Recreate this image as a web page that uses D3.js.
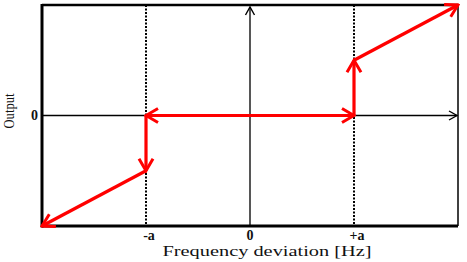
<!DOCTYPE html>
<html>
<head>
<meta charset="utf-8">
<script src="https://cdn.jsdelivr.net/npm/d3@7"></script>
<style>
  body { margin: 0; background: #fff; }
  text { font-family: "Liberation Serif", "DejaVu Serif", serif; fill: #111; }
</style>
</head>
<body>
<svg id="main-svg" width="467" height="262"></svg>
<script>
// data
const xTicks = [-1, 0, 1];
const xTickLabels = ["-a", "0", "+a"];
const yTicks = [0];
const yTickLabels = ["0"];
const thresholds = [-1, 1];
// red response path, one entry per arrow
const segments = [
  {from: [-1, 0], to: [1, 0], both: true},
  {from: [-1, 0], to: [-1, -0.5]},
  {from: [-1, -0.5], to: [-2, -1]},
  {from: [1, 0], to: [1, 0.5]},
  {from: [1, 0.5], to: [2, 1]}
];

const margin = {top: 5, right: 9, bottom: 36, left: 42};
const width = 467, height = 262;

const x = d3.scaleLinear().domain([-2, 2]).range([margin.left, width - margin.right]);
const y = d3.scaleLinear().domain([-1, 1]).range([height - margin.bottom, margin.top]);

const svg = d3.select('#main-svg');
const defs = svg.append("defs");

let marker = (id, color, w, len, half) => {
  defs.append("marker")
    .attr("id", id)
    .attr("viewBox", "-16 -10 18 20")
    .attr("refX", 0).attr("refY", 0)
    .attr("markerUnits", "userSpaceOnUse")
    .attr("markerWidth", 18).attr("markerHeight", 20)
    .attr("orient", "auto-start-reverse")
    .append("path")
    .attr("d", `M${-len},${-half}L0,0L${-len},${half}`)
    .attr("fill", "none")
    .attr("stroke", color)
    .attr("stroke-width", w)
    .attr("stroke-linejoin", "miter");
}
marker("red-arrow", "#f00", 3, 12, 7);
marker("black-arrow", "#000", 1.4, 8, 4.5);

// dotted threshold lines
svg.append("g")
  .selectAll("line")
  .data(thresholds)
  .join("line")
  .attr("x1", d => x(d)).attr("x2", d => x(d))
  .attr("y1", y(1)).attr("y2", y(-1))
  .attr("stroke", "#000")
  .attr("stroke-width", 2)
  .attr("stroke-dasharray", "2,1.5");

// zero axes with arrows
svg.append("line")
  .attr("x1", x(0)).attr("x2", x(0))
  .attr("y1", y(-1)).attr("y2", y(1) + 2)
  .attr("stroke", "#444").attr("stroke-width", 1.8)
  .attr("marker-end", "url(#black-arrow)");
svg.append("line")
  .attr("x1", x(-2)).attr("x2", x(2) - 1)
  .attr("y1", y(0)).attr("y2", y(0))
  .attr("stroke", "#000").attr("stroke-width", 1.6)
  .attr("marker-end", "url(#black-arrow)");

// frame
const frame = svg.append("g").attr("stroke", "#000").attr("fill", "none");
frame.append("line").attr("x1", x(-2)).attr("x2", x(2)).attr("y1", y(1)).attr("y2", y(1)).attr("stroke-width", 2.5);
frame.append("line").attr("x1", x(-2)).attr("x2", x(2)).attr("y1", y(-1)).attr("y2", y(-1)).attr("stroke-width", 3);
frame.append("line").attr("x1", x(-2)).attr("x2", x(-2)).attr("y1", y(1) - 1).attr("y2", y(-1) + 1.5).attr("stroke-width", 3);
frame.append("line").attr("x1", x(2)).attr("x2", x(2)).attr("y1", y(1)).attr("y2", y(-1)).attr("stroke-width", 1.5);

// red arrows
svg.append("g")
  .selectAll("line")
  .data(segments)
  .join("line")
  .attr("x1", d => x(d.from[0])).attr("y1", d => y(d.from[1]))
  .attr("x2", d => x(d.to[0])).attr("y2", d => y(d.to[1]))
  .attr("stroke", "#f00")
  .attr("stroke-width", 3.2)
  .attr("marker-end", "url(#red-arrow)")
  .attr("marker-start", d => d.both ? "url(#red-arrow)" : null);

// tick labels
svg.append("g")
  .selectAll("text")
  .data(xTicks)
  .join("text")
  .attr("x", d => x(d) + (d === 0 ? 0 : 3))
  .attr("y", 240)
  .attr("text-anchor", "middle")
  .attr("font-size", 14)
  .attr("font-weight", "bold")
  .text((d, i) => xTickLabels[i]);

svg.append("g")
  .selectAll("text")
  .data(yTicks)
  .join("text")
  .attr("x", 38)
  .attr("y", d => y(d) + 4)
  .attr("text-anchor", "end")
  .attr("font-size", 14)
  .attr("font-weight", "bold")
  .text((d, i) => yTickLabels[i]);

// axis titles
svg.append("text")
  .attr("x", 267).attr("y", 256)
  .attr("text-anchor", "middle")
  .attr("font-size", 15)
  .attr("textLength", 209)
  .attr("lengthAdjust", "spacingAndGlyphs")
  .text("Frequency deviation [Hz]");

svg.append("text")
  .attr("transform", "translate(14,111) rotate(-90)")
  .attr("text-anchor", "middle")
  .attr("font-size", 15)
  .attr("textLength", 35)
  .attr("lengthAdjust", "spacingAndGlyphs")
  .text("Output");
</script>
</body>
</html>
